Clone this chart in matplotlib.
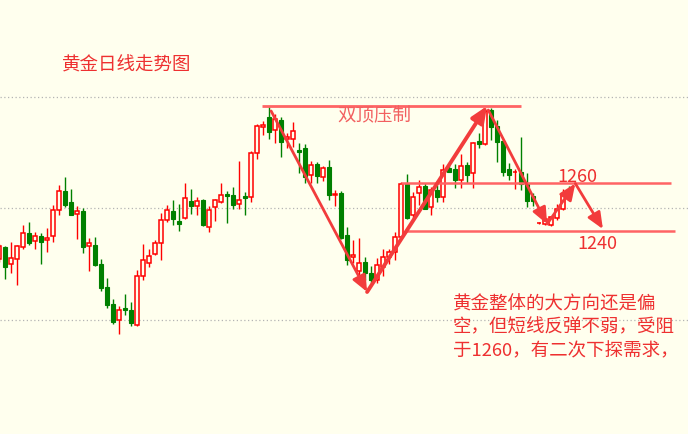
import matplotlib
matplotlib.use("Agg")
import numpy as np
import matplotlib.pyplot as plt

plt.rcParams['font.family'] = ['Noto Sans CJK SC', 'DejaVu Sans']

# ── daily OHLC (price units) ────────────────────────────────────
opens = [1228.2, 1233.2, 1226.4, 1228.2, 1233.5, 1239.2, 1235.7, 1237.9, 1236.1, 1237.8,
         1248.6, 1256.5, 1252.0, 1247.0, 1248.2, 1233.6, 1234.0, 1226.3, 1216.7, 1209.5,
         1202.8, 1207.9, 1207.1, 1200.7, 1221.1, 1226.5, 1230.3, 1234.9, 1244.5, 1248.2,
         1244.2, 1245.5, 1252.5, 1250.3, 1253.0, 1241.8, 1249.9, 1252.0, 1255.4, 1254.9,
         1251.1, 1254.6, 1254.0, 1272.4, 1283.2, 1287.5, 1281.9, 1286.1, 1278.2, 1278.2,
         1273.8, 1274.6, 1263.2, 1267.9, 1262.3, 1266.7, 1255.0, 1255.8, 1238.3, 1229.2,
         1223.3, 1227.0, 1222.6, 1219.6, 1225.1, 1229.2, 1231.1, 1237.4, 1259.5, 1246.5,
         1255.7, 1258.8, 1249.9, 1257.1, 1254.3, 1266.3, 1265.7, 1261.4, 1267.5, 1264.0,
         1277.5, 1276.1, 1290.4, 1283.8, 1277.5, 1265.8, 1264.4, 1264.4, 1260.2, 1254.6,
         1243.3, 1242.9, 1242.4, 1245.4, 1249.0, 1256.6]
highs = [1234.6, 1233.8, 1235.4, 1234.0, 1242.5, 1243.8, 1239.6, 1239.2, 1241.3, 1250.8,
         1259.2, 1262.5, 1257.5, 1250.4, 1249.5, 1237.1, 1237.5, 1228.5, 1220.4, 1211.8,
         1208.8, 1213.6, 1210.3, 1223.8, 1234.6, 1232.5, 1236.3, 1247.6, 1251.0, 1252.9,
         1251.4, 1260.0, 1257.5, 1254.0, 1253.3, 1250.3, 1253.5, 1260.0, 1256.7, 1258.3,
         1269.2, 1256.3, 1273.3, 1284.4, 1285.8, 1292.0, 1288.8, 1287.5, 1280.7, 1285.3,
         1276.7, 1276.3, 1269.2, 1268.9, 1267.1, 1269.5, 1257.1, 1256.5, 1241.8, 1236.3,
         1237.0, 1229.3, 1225.4, 1228.6, 1232.4, 1232.4, 1239.7, 1260.4, 1263.8, 1256.3,
         1261.3, 1259.9, 1258.2, 1259.2, 1267.8, 1267.5, 1267.9, 1272.1, 1268.8, 1277.0,
         1280.7, 1291.4, 1291.1, 1286.3, 1277.9, 1268.2, 1265.8, 1279.2, 1264.2, 1255.8,
         1243.8, 1245.8, 1246.3, 1251.3, 1257.7, 1258.8]
lows = [1227.1, 1220.1, 1222.6, 1217.6, 1232.6, 1234.3, 1232.6, 1226.3, 1231.4, 1235.5,
        1246.8, 1249.9, 1246.5, 1236.7, 1231.0, 1223.5, 1225.4, 1215.1, 1208.0, 1201.3,
        1197.2, 1205.1, 1200.4, 1200.5, 1219.7, 1225.1, 1230.0, 1228.0, 1243.9, 1242.6,
        1240.1, 1245.1, 1247.2, 1246.8, 1242.1, 1239.7, 1244.3, 1251.5, 1243.5, 1249.3,
        1249.3, 1246.8, 1252.2, 1270.1, 1280.0, 1278.5, 1276.5, 1271.0, 1274.4, 1275.2,
        1264.0, 1260.1, 1259.9, 1260.0, 1260.8, 1253.1, 1250.4, 1236.8, 1226.0, 1226.7,
        1218.5, 1219.6, 1218.2, 1218.2, 1221.4, 1226.3, 1227.9, 1237.0, 1244.9, 1245.4,
        1250.7, 1249.2, 1246.8, 1252.1, 1252.1, 1264.6, 1257.8, 1258.0, 1259.9, 1257.8,
        1274.5, 1275.8, 1277.9, 1268.9, 1262.9, 1261.3, 1257.7, 1257.1, 1250.1, 1250.4,
        1242.9, 1242.5, 1242.1, 1244.6, 1248.8, 1252.9]
closes = [1233.8, 1225.1, 1228.6, 1233.6, 1239.0, 1235.1, 1237.8, 1235.5, 1237.0, 1248.6,
          1256.5, 1251.0, 1246.8, 1248.2, 1233.5, 1234.9, 1226.0, 1216.4, 1209.3, 1202.2,
          1207.0, 1207.0, 1201.8, 1221.1, 1227.8, 1229.5, 1234.9, 1244.5, 1248.6, 1245.1,
          1243.0, 1253.6, 1250.5, 1252.5, 1242.5, 1248.6, 1252.9, 1254.9, 1254.7, 1251.0,
          1252.9, 1253.9, 1272.5, 1283.6, 1284.2, 1281.4, 1286.7, 1277.2, 1279.0, 1281.5,
          1273.0, 1262.3, 1267.4, 1262.9, 1266.1, 1255.0, 1255.4, 1237.1, 1228.0, 1230.2,
          1226.7, 1222.4, 1219.6, 1225.8, 1229.2, 1231.1, 1237.4, 1259.5, 1245.5, 1254.3,
          1258.5, 1249.3, 1257.1, 1254.3, 1265.3, 1264.7, 1261.3, 1267.0, 1263.5, 1276.5,
          1276.4, 1290.1, 1283.5, 1277.2, 1264.4, 1263.3, 1264.7, 1259.4, 1252.5, 1252.3,
          1243.5, 1245.2, 1245.8, 1249.0, 1255.5, 1254.3]

grid_levels = [1296.0, 1249.5, 1202.8]
resistance = 1260
support = 1240
double_top = 1292.2

title = "黄金日线走势图"
double_top_label = "双顶压制"
comment = ["黄金整体的大方向还是偏", "空，但短线反弹不弱，受阻", "于1260，有二次下探需求，"]

# path of the arrows: (bar index, price)
v_path = [(45.3, 1290.0), (61.3, 1214.6), (81.3, 1292.1)]
next_path = [(81.5, 1290.4), (91.3, 1242.9), (96.0, 1259.8), (100.6, 1240.8)]

BG = "#ffffee"
UP = "#ff0000"
DOWN = "#008000"
LINE = "#ff6464"
ARROW = "#f23c3c"
TEXT = "#ee3030"

fig = plt.figure(figsize=(6.88, 4.34), dpi=100, facecolor=BG)
ax = fig.add_axes([0, 0, 1, 1], facecolor=BG)
ax.set_xlim(0.117, 114.78)
ax.set_ylim(1155.42, 1336.25)
ax.axis("off")

for lv in grid_levels:
    ax.axhline(lv, color="#b4b4b4", lw=0.9, ls=(0, (1, 2)), zorder=1)

# ── candles ─────────────────────────────────────────────────────
o = np.array(opens); h = np.array(highs); l = np.array(lows); c = np.array(closes)
x = np.arange(len(o))
up = c >= o
cols = np.where(up, UP, DOWN)
ax.vlines(x, l, h, colors=cols, lw=1.0, zorder=2)
bottom = np.minimum(o, c)
height = np.abs(c - o)
ax.bar(x[up], height[up], 0.72, bottom[up], facecolor=BG, edgecolor=UP,
       lw=1.1, zorder=3)
ax.bar(x[~up], height[~up], 0.72, bottom[~up], facecolor=DOWN, edgecolor=DOWN,
       lw=0.8, zorder=3)

# ── annotations ─────────────────────────────────────────────────
ax.hlines(double_top, 43.8, 87.0, color=LINE, lw=2.0, zorder=4)
ax.hlines(resistance, 66.9, 111.9, color=LINE, lw=1.8, zorder=4)
ax.hlines(support + 0.1, 67.8, 112.6, color=LINE, lw=1.8, zorder=4)


def arrow(p0, p1, lw):
    ax.annotate("", xy=p1, xytext=p0, zorder=5,
                arrowprops=dict(arrowstyle="-|>,head_length=0.7,head_width=0.3",
                                color=ARROW, lw=lw, mutation_scale=14,
                                shrinkA=0, shrinkB=0))


arrow(v_path[0], v_path[1], 2.0)
arrow(v_path[1], v_path[2], 2.8)
for a, b in zip(next_path[:-1], next_path[1:]):
    arrow(a, b, 2.0)

ax.text(10.45, 1308.75, title, color=TEXT, fontsize=13.3, va="center", ha="left")
ax.text(56.3, 1287.7, double_top_label, color="#f26060", fontsize=13.3,
        va="center", ha="left", zorder=6)
ax.text(92.95, 1260.4, str(resistance), color=TEXT, fontsize=13, va="baseline", ha="left")
ax.text(96.3, 1232.4, str(support), color=TEXT, fontsize=13, va="baseline", ha="left")
for k, line in enumerate(comment):
    ax.text(75.6, 1213.3 - k * 9.85, line, color=TEXT, fontsize=13.3,
            va="top", ha="left")

fig.savefig("out.png", dpi=100, facecolor=BG)
